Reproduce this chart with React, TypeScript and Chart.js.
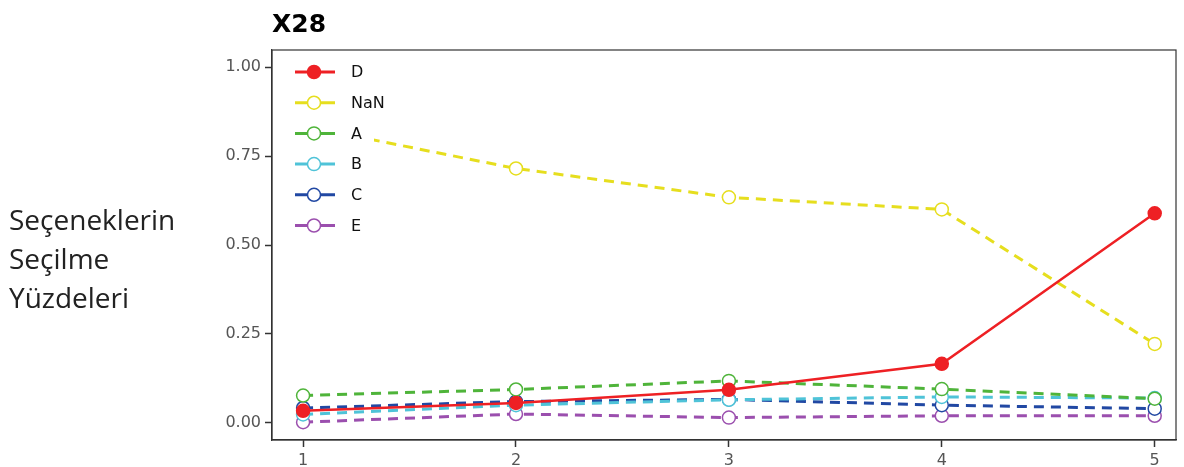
import React, { useEffect, useRef } from "react";
import { Chart, registerables } from "chart.js";

Chart.register(...registerables);

const categories = [1, 2, 3, 4, 5];
const seriesNames = ["D", "NaN", "A", "B", "C", "E"];
const valuesD = [0.034, 0.056, 0.093, 0.166, 0.589];
const valuesNaN = [0.835, 0.715, 0.634, 0.6, 0.222];
const valuesA = [0.077, 0.094, 0.118, 0.095, 0.068];
const valuesB = [0.024, 0.05, 0.065, 0.073, 0.07];
const valuesC = [0.042, 0.06, 0.066, 0.05, 0.04];
const valuesE = [0.002, 0.025, 0.015, 0.02, 0.02];
const yTicks = [0, 0.25, 0.5, 0.75, 1.0];
const titleText = "X28";
const sideLabel = ["Seçeneklerin", "Seçilme", "Yüzdeleri"];

const colors = ["#ee2024", "#e6de1e", "#4fb43a", "#4fc3d8", "#2148a3", "#9b4fae"];
const allValues = [valuesD, valuesNaN, valuesA, valuesB, valuesC, valuesE];

export default function App() {
  const ref = useRef<HTMLCanvasElement>(null);
  useEffect(() => {
    document.body.style.margin = "0";
    const ctx = ref.current!;
    const datasets = seriesNames.map((name, i) => {
      const solid = i === 0;
      return {
        label: name,
        data: categories.map((c, j) => ({ x: c, y: allValues[i][j] })),
        borderColor: colors[i],
        backgroundColor: colors[i],
        borderWidth: solid ? 2.5 : 3,
        borderDash: solid ? [] : [10, 7],
        pointRadius: 6.5,
        pointBorderWidth: 1.5,
        pointBackgroundColor: solid ? colors[i] : "#ffffff",
        pointBorderColor: colors[i],
        tension: 0,
        fill: false,
      };
    });

    const overlay = {
      id: "overlay",
      afterDatasetsDraw(chart: any) {
        const c = chart.ctx;
        const a = chart.chartArea;
        c.save();
        // legend
        c.fillStyle = "#ffffff";
        c.fillRect(282, 56, 92, 186);
        seriesNames.forEach((name, i) => {
          const y = 72 + i * 30.7;
          c.strokeStyle = colors[i];
          c.lineWidth = 3;
          c.setLineDash([]);
          c.beginPath();
          c.moveTo(295, y);
          c.lineTo(335, y);
          c.stroke();
          c.beginPath();
          c.arc(314, y, 6.5, 0, Math.PI * 2);
          c.fillStyle = i === 0 ? colors[i] : "#ffffff";
          c.fill();
          c.lineWidth = 1.5;
          c.stroke();
          c.fillStyle = "#111111";
          c.font = "16px 'DejaVu Sans'";
          c.textBaseline = "middle";
          c.textAlign = "left";
          c.fillText(name, 351, y + 1);
        });
        // frame
        c.strokeStyle = "#333333";
        c.lineWidth = 1.2;
        c.strokeRect(a.left, a.top, a.right - a.left, a.bottom - a.top);
        c.restore();
      },
      afterDraw(chart: any) {
        const c = chart.ctx;
        c.save();
        c.fillStyle = "#000000";
        c.font = "bold 25px 'DejaVu Sans'";
        c.textBaseline = "alphabetic";
        c.textAlign = "left";
        c.fillText(titleText, 272, 32);
        c.fillStyle = "#222222";
        c.font = "28px 'Open Sans'";
        sideLabel.forEach((t, i) => {
          c.fillText(t, 9, 230 + i * 39);
        });
        c.restore();
      },
    };

    const chart = new Chart(ctx, {
      type: "line",
      data: { datasets },
      options: {
        animation: false,
        responsive: false,
        layout: { padding: { left: 0, right: 8, top: 50, bottom: 0 } },
        plugins: { legend: { display: false }, tooltip: { enabled: false }, title: { display: false } },
        scales: {
          x: {
            type: "linear",
            min: 0.854,
            max: 5.1,
            afterBuildTicks: (s: any) => {
              s.ticks = categories.map((v) => ({ value: v }));
            },
            afterFit: (s: any) => {
              s.height = 27;
            },
            grid: { drawOnChartArea: false, drawTicks: true, tickLength: 7, tickColor: "#333333", tickWidth: 1.5 },
            border: { display: true, color: "#333333", width: 1.2 },
            ticks: {
              color: "#555555",
              font: { family: "'DejaVu Sans'", size: 16 },
              padding: 4,
              maxRotation: 0,
              callback: (v: any) => String(v),
            },
          },
          y: {
            type: "linear",
            min: -0.048,
            max: 1.048,
            afterBuildTicks: (s: any) => {
              s.ticks = yTicks.map((v) => ({ value: v }));
            },
            afterFit: (s: any) => {
              s.width = 272;
            },
            grid: { drawOnChartArea: false, drawTicks: true, tickLength: 7, tickColor: "#333333", tickWidth: 1.5 },
            border: { display: true, color: "#333333", width: 1.2 },
            ticks: {
              color: "#555555",
              font: { family: "'DejaVu Sans'", size: 16 },
              padding: 4,
              callback: (v: any) => Number(v).toFixed(2),
            },
          },
        },
      },
      plugins: [overlay],
    });
    return () => chart.destroy();
  }, []);
  return (
    <div style={{ position: "fixed", left: 0, top: 0, width: 1184, height: 467, background: "#ffffff" }}>
      <canvas ref={ref} width={1184} height={467} />
    </div>
  );
}
